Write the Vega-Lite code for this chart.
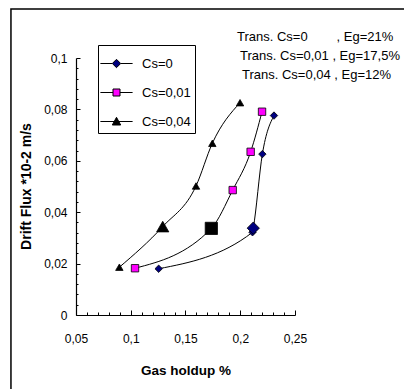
{
  "$schema": "https://vega.github.io/schema/vega-lite/v6.json",
  "width": 219,
  "height": 257,
  "autosize": "none",
  "padding": {"left": 76, "top": 58, "right": 109, "bottom": 74},
  "background": "white",
  "config": {
    "view": {"stroke": null},
    "font": "Liberation Sans",
    "axis": {"domainColor": "black", "tickColor": "black", "grid": false, "labelColor": "black", "titleColor": "black", "labelFont": "Liberation Sans", "titleFont": "Liberation Sans", "labelFontSize": 12, "titleFontSize": 12, "titleFontWeight": "bold", "domainWidth": 1.2, "tickWidth": 1, "labelOverlap": false, "labelFlush": false}
  },
  "data": {
    "values": [
      {"Cs": "Cs=0", "g": 0.1255, "f": 0.0180, "t": 0},
      {"Cs": "Cs=0", "g": 0.2112, "f": 0.0322, "t": 0},
      {"Cs": "Cs=0", "g": 0.2119, "f": 0.0338, "t": 1},
      {"Cs": "Cs=0", "g": 0.2202, "f": 0.0626, "t": 0},
      {"Cs": "Cs=0", "g": 0.2308, "f": 0.0776, "t": 0},
      {"Cs": "Cs=0,01", "g": 0.1039, "f": 0.0182, "t": 0},
      {"Cs": "Cs=0,01", "g": 0.1736, "f": 0.0337, "t": 1},
      {"Cs": "Cs=0,01", "g": 0.1931, "f": 0.0486, "t": 0},
      {"Cs": "Cs=0,01", "g": 0.2095, "f": 0.0635, "t": 0},
      {"Cs": "Cs=0,01", "g": 0.2199, "f": 0.0791, "t": 0},
      {"Cs": "Cs=0,04", "g": 0.0896, "f": 0.0186, "t": 0},
      {"Cs": "Cs=0,04", "g": 0.1292, "f": 0.0344, "t": 1},
      {"Cs": "Cs=0,04", "g": 0.1596, "f": 0.0502, "t": 0},
      {"Cs": "Cs=0,04", "g": 0.1745, "f": 0.0668, "t": 0},
      {"Cs": "Cs=0,04", "g": 0.1998, "f": 0.0826, "t": 0}
    ]
  },
  "resolve": {
    "scale": {"shape": "independent", "fill": "independent"},
    "legend": {"shape": "independent", "fill": "independent"},
    "axis": {"x": "independent", "y": "independent"}
  },
  "layer": [
    {
      "mark": {"type": "line", "color": "black", "strokeWidth": 1, "interpolate": "monotone"},
      "encoding": {
        "x": {
          "field": "g", "type": "quantitative",
          "scale": {"domain": [0.05, 0.25], "nice": false, "zero": false},
          "axis": {
            "orient": "bottom",
            "values": [0.05, 0.1, 0.15, 0.2, 0.25],
            "tickSize": -5,
            "format": "~g",
            "labelExpr": "replace(datum.label, '.', ',')",
            "labelPadding": 23,
            "title": "Gas holdup %",
            "titleFontSize": 13.5,
            "titleX": 109.5,
            "titleY": 55,
            "titleBaseline": "middle",
            "titleAlign": "center"
          }
        },
        "y": {
          "field": "f", "type": "quantitative",
          "scale": {"domain": [0, 0.1], "nice": false, "zero": false},
          "axis": {
            "orient": "left",
            "values": [0, 0.02, 0.04, 0.06, 0.08, 0.1],
            "tickSize": -4,
            "format": "~g",
            "labelExpr": "replace(datum.label, '.', ',')",
            "labelPadding": 13,
            "title": "Drift Flux *10-2  m/s",
            "titleFontSize": 14,
            "titleAngle": -90,
            "titleX": -50,
            "titleY": 128,
            "titleBaseline": "middle",
            "titleAlign": "center"
          }
        },
        "detail": {"field": "Cs"}
      }
    },
    {
      "mark": {"type": "point", "filled": true, "opacity": 1, "stroke": "black", "strokeWidth": 0.8},
      "encoding": {
        "x": {
          "field": "g", "type": "quantitative",
          "axis": {
            "orient": "bottom",
            "values": [0.06, 0.07, 0.08, 0.09, 0.11, 0.12, 0.13, 0.14, 0.16, 0.17, 0.18, 0.19, 0.21, 0.22, 0.23, 0.24],
            "tickSize": -3,
            "labels": false,
            "domain": false,
            "title": null
          }
        },
        "y": {
          "field": "f", "type": "quantitative",
          "axis": {
            "orient": "left",
            "values": [0.004, 0.008, 0.012, 0.016, 0.024, 0.028, 0.032, 0.036, 0.044, 0.048, 0.052, 0.056, 0.064, 0.068, 0.072, 0.076, 0.084, 0.088, 0.092, 0.096],
            "tickSize": -2,
            "labels": false,
            "domain": false,
            "title": null
          }
        },
        "shape": {
          "field": "Cs", "type": "nominal",
          "scale": {"domain": ["Cs=0", "Cs=0,01", "Cs=0,04"], "range": ["diamond", "square", "triangle-up"]},
          "legend": null
        },
        "fill": {
          "condition": {"test": "datum.t == 1 && datum.Cs == 'Cs=0,01'", "value": "black"},
          "field": "Cs", "type": "nominal",
          "scale": {"domain": ["Cs=0", "Cs=0,01", "Cs=0,04"], "range": ["#000080", "#FF00FF", "#000000"]},
          "legend": null
        },
        "size": {"condition": {"test": "datum.t == 1", "value": 150}, "value": 55}
      }
    },
    {
      "transform": [{"filter": "datum.t == 2"}],
      "mark": {"type": "point", "filled": true, "opacity": 1, "stroke": "black", "strokeWidth": 1, "size": 784},
      "encoding": {
        "x": {"field": "g", "type": "quantitative", "axis": null},
        "y": {"field": "f", "type": "quantitative", "axis": null},
        "shape": {
          "field": "Cs", "type": "nominal",
          "scale": {"domain": ["Cs=0", "Cs=0,01", "Cs=0,04"], "range": ["M-1.15,0H-0.3M0.3,0H1.15M0,-0.3L0.3,0L0,0.3L-0.3,0Z", "M-1.15,0H-0.25M0.25,0H1.15M-0.25,-0.25H0.25V0.25H-0.25Z", "M-1.15,0H1.15M0,-0.3L0.3,0.25L-0.3,0.25Z"]},
          "legend": {
            "title": null,
            "orient": "none",
            "legendX": 22,
            "legendY": -13,
            "strokeColor": "black",
            "fillColor": "white",
            "padding": 4,
            "cornerRadius": 0,
            "symbolSize": 784,
            "rowPadding": 7,
            "labelOffset": 11,
            "labelFont": "Liberation Sans",
            "labelFontSize": 13,
            "labelColor": "black",
            "symbolStrokeColor": "black",
            "symbolStrokeWidth": 1,
            "encoding": {"symbols": {"stroke": {"value": "black"}, "strokeWidth": {"value": 1}}}
          }
        },
        "fill": {
          "field": "Cs", "type": "nominal",
          "scale": {"domain": ["Cs=0", "Cs=0,01", "Cs=0,04"], "range": ["#000080", "#FF00FF", "#000000"]},
          "legend": {
            "title": null,
            "orient": "none",
            "legendX": 22,
            "legendY": -13,
            "strokeColor": "black",
            "fillColor": "white",
            "padding": 4,
            "cornerRadius": 0,
            "symbolSize": 784,
            "rowPadding": 7,
            "labelOffset": 11,
            "labelFont": "Liberation Sans",
            "labelFontSize": 13,
            "labelColor": "black",
            "symbolStrokeColor": "black",
            "symbolStrokeWidth": 1,
            "encoding": {"symbols": {"stroke": {"value": "black"}, "strokeWidth": {"value": 1}}}
          }
        }
      }
    },
    {
      "data": {"values": [{}]},
      "mark": {"type": "rect", "fill": null, "stroke": "black", "strokeWidth": 1.5},
      "encoding": {
        "x": {"datum": -0.0094, "type": "quantitative", "axis": null},
        "x2": {"datum": 1.0},
        "y": {"datum": 0.1191, "type": "quantitative", "axis": null},
        "y2": {"datum": -0.5}
      }
    },
    {
      "data": {"values": [{}]},
      "mark": {"type": "text", "align": "left", "baseline": "middle", "font": "Liberation Sans", "fontSize": 13, "color": "black"},
      "encoding": {
        "x": {"datum": 0.197, "type": "quantitative", "axis": null},
        "y": {"datum": 0.1082, "type": "quantitative", "axis": null},
        "text": {"value": "Trans. Cs=0\u00a0\u00a0\u00a0\u00a0\u00a0\u00a0\u00a0 , Eg=21%"}
      }
    },
    {
      "data": {"values": [{}]},
      "mark": {"type": "text", "align": "left", "baseline": "middle", "font": "Liberation Sans", "fontSize": 13, "color": "black"},
      "encoding": {
        "x": {"datum": 0.1998, "type": "quantitative", "axis": null},
        "y": {"datum": 0.1008, "type": "quantitative", "axis": null},
        "text": {"value": "Trans. Cs=0,01 , Eg=17,5%"}
      }
    },
    {
      "data": {"values": [{}]},
      "mark": {"type": "text", "align": "left", "baseline": "middle", "font": "Liberation Sans", "fontSize": 13, "color": "black"},
      "encoding": {
        "x": {"datum": 0.2016, "type": "quantitative", "axis": null},
        "y": {"datum": 0.0934, "type": "quantitative", "axis": null},
        "text": {"value": "Trans. Cs=0,04 , Eg=12%"}
      }
    }
  ]
}
